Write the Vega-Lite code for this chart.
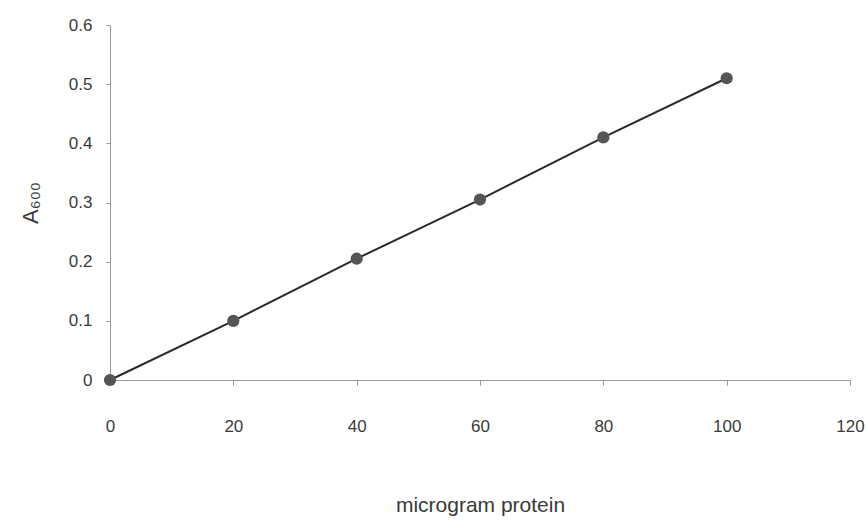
{
  "$schema": "https://vega.github.io/schema/vega-lite/v6.json",
  "width": 740,
  "height": 355,
  "autosize": {"type": "none"},
  "padding": {"left": 110, "top": 25, "right": 18, "bottom": 140},
  "background": "#ffffff",
  "config": {"view": {"stroke": null}, "font": "Liberation Sans"},
  "data": {"values": [
    {"protein": 0, "A600": 0},
    {"protein": 20, "A600": 0.1},
    {"protein": 40, "A600": 0.205},
    {"protein": 60, "A600": 0.305},
    {"protein": 80, "A600": 0.41},
    {"protein": 100, "A600": 0.51}
  ]},
  "encoding": {
    "x": {"field": "protein", "type": "quantitative",
      "scale": {"domain": [0, 120], "nice": false},
      "axis": {"values": [0, 20, 40, 60, 80, 100, 120], "grid": false, "title": "microgram protein",
        "domainColor": "#999999", "tickColor": "#999999", "tickSize": 5, "labelPadding": 33,
        "labelFontSize": 17, "labelColor": "#3a3a3a", "titleFontSize": 21, "titleFontWeight": "normal",
        "titleColor": "#3a3a3a", "titlePadding": 60, "labelFlush": false}},
    "y": {"field": "A600", "type": "quantitative",
      "scale": {"domain": [0, 0.6], "nice": false},
      "axis": {"values": [0, 0.1, 0.2, 0.3, 0.4, 0.5, 0.6], "grid": false, "title": "A₆₀₀",
        "format": ".1~f",
        "domainColor": "#999999", "tickColor": "#999999", "tickSize": 4, "labelPadding": 14,
        "labelFontSize": 17, "labelColor": "#3a3a3a", "titleFontSize": 22, "titleFontWeight": "normal",
        "titleColor": "#3a3a3a", "titlePadding": 26, "labelFlush": false}}
  },
  "layer": [
    {"mark": {"type": "line", "color": "#2a2a2a", "strokeWidth": 2}},
    {"mark": {"type": "circle", "color": "#555555", "opacity": 1, "size": 150}}
  ]
}
